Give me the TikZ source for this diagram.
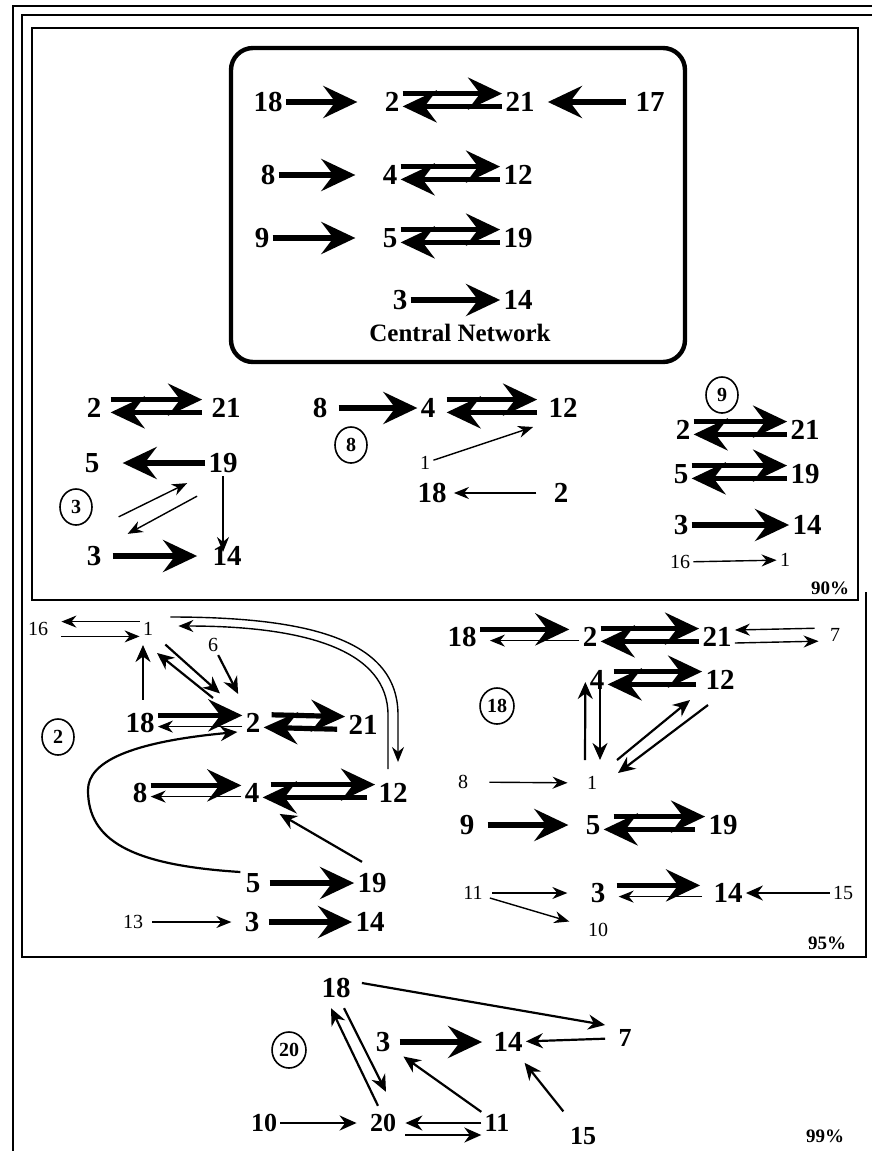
\documentclass[tikz,border=0pt]{standalone}
\usepackage{fontspec}
\setmainfont{Liberation Serif}
\usetikzlibrary{arrows.meta,calc,shapes.geometric}

\tikzset{
  big/.style={font=\fontsize{14.5}{16}\selectfont\bfseries, inner sep=1.5pt},
  mid/.style={font=\fontsize{13}{15}\selectfont\bfseries, inner sep=1.5pt},
  sml/.style={font=\fontsize{10}{12}\selectfont, inner sep=1.5pt},
  pct/.style={font=\fontsize{9.5}{11}\selectfont\bfseries, inner sep=1pt},
  tag/.style={draw, ellipse, line width=0.8pt, inner sep=1pt,
    minimum width=16pt, minimum height=18pt, font=\fontsize{10}{11}\selectfont\bfseries},
  thk/.style={line width=2.6pt, -{Stealth[length=17pt,width=16pt,inset=6pt]}},
  med/.style={line width=1.1pt, -{Stealth[length=8.5pt,width=7.5pt]}},
  thn/.style={line width=0.7pt, -{Stealth[length=7.5pt,width=6pt]}},
  frame/.style={line width=1pt}
}
% thick both ways
\newcommand{\rpair}[3][]{%
  \draw[thk,#1] ([yshift=4.2pt]#2.east) -- ([yshift=4.2pt]#3.west);%
  \draw[thk,#1] ([yshift=-2.2pt]#3.west) -- ([yshift=-2.2pt]#2.east);}
% thick forward, thin back
\newcommand{\rmix}[3][]{%
  \draw[thk,#1] ([yshift=3.8pt]#2.east) -- ([yshift=3.8pt]#3.west);%
  \draw[thn,#1] ([yshift=-1.8pt]#3.west) -- ([yshift=-1.8pt]#2.east);}

\begin{document}
\begin{tikzpicture}[x=0.5pt,y=-0.5pt]
  \useasboundingbox (0,0) rectangle (872,1151);

  % frames
  \draw[frame] (13,1151) -- (13,6) -- (872,6);
  \draw[frame] (866,592) -- (866,957) -- (22,957) -- (22,15) -- (872,15);
  \draw[frame] (32,28) rectangle (858,600);
  \draw[line width=2.2pt, rounded corners=11pt] (231,48) rectangle (685,362);

  % central network
  \node[big] (c18) at (268,102) {18};
  \node[big] (c2)  at (392,102) {2};
  \node[big] (c21) at (520,102) {21};
  \node[big] (c17) at (650,102) {17};
  \node[big] (c8)  at (268,175) {8};
  \node[big] (c4)  at (390,175) {4};
  \node[big] (c12) at (518,175) {12};
  \node[big] (c9)  at (262,238) {9};
  \node[big] (c5)  at (390,238) {5};
  \node[big] (c19) at (518,238) {19};
  \node[big] (c3)  at (400,300) {3};
  \node[big] (c14) at (518,300) {14};
  \node[font=\fontsize{12.5}{14}\selectfont\bfseries] (cnet) at (460,333) {Central Network};

  \draw[thk, shorten >=12pt] (c18) -- (c2);
  \draw[thk, shorten >=12pt] (c8) -- (c4);
  \draw[thk, shorten >=12pt] (c9) -- (c5);
  \draw[thk, shorten <=3pt, shorten >=5pt] (c17) -- (c21);
  \draw[thk] (c3) -- (c14);
  \rpair{c2}{c21}\rpair{c4}{c12}\rpair{c5}{c19}

  % panel 3
  \node[big] (a2)  at (94,408)  {2};
  \node[big] (a21) at (226,408) {21};
  \node[big] (a5)  at (92,463)  {5};
  \node[big] (a19) at (223,463) {19};
  \node[tag] (t3)  at (76,507)  {3};
  \node[big] (a3)  at (94,556)  {3};
  \node[big] (a14) at (227,556) {14};

  \rpair[shorten <=3pt, shorten >=3pt]{a2}{a21}
  \draw[thk, shorten >=10pt] (a19) -- (a5);
  \draw[thn] ($(a3.north east)+(14,-26)$) -- ($(a19.south west)+(-18,7)$);
  \draw[thn] ($(a19.south west)+(-8,20)$) -- ($(a3.north east)+(23,-9)$);
  \draw[thn] (a19.south) -- ($(a19.south |- a14.north)+(0,9)$);
  \draw[thk, shorten <=4pt, shorten >=6pt] (a3) -- (a14);

  % panel 8
  \node[big] (b8)  at (320,408) {8};
  \node[big] (b4)  at (428,408) {4};
  \node[big] (b12) at (563,408) {12};
  \node[tag] (t8)  at (351,445) {8};
  \node[sml] (b1)  at (425,463) {1};
  \node[big] (b18) at (432,493) {18};
  \node[big] (b2)  at (561,493) {2};

  \draw[thk, shorten <=4pt] (b8) -- (b4);
  \rpair[shorten <=4pt, shorten >=4pt]{b4}{b12}
  \draw[thn] (b1) -- ($(b12.south west)+(-12,6)$);
  \draw[thn, shorten <=7pt, shorten >=2pt] (b2) -- (b18);

  % panel 9
  \node[tag] (t9)  at (722,395) {9};
  \node[big] (d2)  at (683,430) {2};
  \node[big] (d21) at (805,430) {21};
  \node[big] (d5)  at (681,474) {5};
  \node[big] (d19) at (805,474) {19};
  \node[big] (d3)  at (681,525) {3};
  \node[big] (d14) at (807,525) {14};
  \node[sml] (d16) at (680,562) {16};
  \node[sml] (d1)  at (785,560) {1};
  \node[pct] (p90) at (830,588) {90\%};

  \rpair{d2}{d21}\rpair{d5}{d19}
  \draw[thk] (d3) -- (d14);
  \draw[thn] (d16) -- (d1);

  % panel 2
  \node[sml] (e16) at (38,629)  {16};
  \node[sml] (e1)  at (148,629) {1};
  \node[sml] (e6)  at (213,645) {6};
  \node[big] (e18) at (140,723) {18};
  \node[big] (e2)  at (253,723) {2};
  \node[big] (e21) at (363,725) {21};
  \node[tag] (t2)  at (58,737)  {2};
  \node[big] (e8)  at (140,793) {8};
  \node[big] (e4)  at (252,793) {4};
  \node[big] (e12) at (393,793) {12};
  \node[big] (e5)  at (253,883) {5};
  \node[big] (e19) at (372,883) {19};
  \node[sml] (e13) at (133,922) {13};
  \node[big] (e3)  at (252,922) {3};
  \node[big] (e14) at (370,922) {14};

  \draw[thn, shorten >=5pt] ([yshift=3.7pt]e1.west) -- ([yshift=3.7pt]e16.east);
  \draw[thn, shorten <=5pt] ([yshift=-3.7pt]e16.east) -- ([yshift=-3.7pt]e1.west);
  \draw[thn] ($(e1.east)+(14,-12)$) .. controls (310,617) and (398,640) .. (398,715)
    -- ($(e12.north)+(5,-18)$);
  \draw[thn] ($(e12.north)+(-5,-11)$) -- (388,715) .. controls (388,652) and (310,626)
    .. ($(e1.east)+(22,-3)$);
  \draw[med, shorten >=9pt] (e6) -- (e2);
  \draw[med, shorten <=6pt, shorten >=15pt] (e1) -- (e2);
  \draw[med] ($(e2)+(-40,-25)$) -- ($(e1)+(9,24)$);
  \draw[med] ($(e18.north)+(3,-10)$) -- ($(e1.south)+(-5,6)$);
  \rmix{e18}{e2}
  \rpair[shorten <=4pt]{e2}{e21}
  \draw[med] ($(e5.west)+(-2,-11)$) .. controls (130,865) and (88,840) .. (88,790)
    .. controls (88,762) and (130,742) .. ($(e2.south west)+(-5,-4)$);
  \rmix{e8}{e4}
  \rpair[shorten <=4pt]{e4}{e12}
  \draw[med] ($(e19.north)+(-10,-8)$) -- ($(e4.south east)+(17,8)$);
  \draw[thk, shorten <=3pt] (e5) -- (e19);
  \draw[thn, shorten <=3pt, shorten >=5pt] (e13) -- (e3);
  \draw[thk, shorten <=3pt] (e3) -- (e14);

  % panel 18
  \node[big] (f18) at (462,637) {18};
  \node[big] (f2)  at (590,637) {2};
  \node[big] (f21) at (717,637) {21};
  \node[sml] (f7)  at (835,635) {7};
  \node[big] (f4)  at (597,680) {4};
  \node[big] (f12) at (720,680) {12};
  \node[tag] (t18) at (497,706) {18};
  \node[sml] (f8)  at (463,782) {8};
  \node[sml] (f1)  at (592,783) {1};
  \node[big] (f9)  at (467,825) {9};
  \node[big] (f5)  at (593,825) {5};
  \node[big] (f19) at (723,825) {19};
  \node[sml] (f11) at (473,893) {11};
  \node[big] (f3)  at (598,893) {3};
  \node[big] (f14) at (728,893) {14};
  \node[sml] (f15) at (843,893) {15};
  \node[sml] (f10) at (598,930) {10};
  \node[pct] (p95) at (827,943) {95\%};

  \rmix[shorten >=5pt]{f18}{f2}
  \rpair{f2}{f21}
  \draw[thn, shorten <=6pt] ([yshift=3.5pt]f7.west) -- ([yshift=3.5pt]f21.east);
  \draw[thn, shorten >=4pt] ([yshift=-3pt]f21.east) -- ([yshift=-3pt]f7.west);
  \rpair[shorten <=3pt]{f4}{f12}
  \draw[med] ($(f1.north)+(-7,-13)$) -- ($(f4.west)+(-1,2)$);
  \draw[med] ($(f4.south)+(3,-5)$) -- ($(f1.north)+(8,-13)$);
  \draw[med] ($(f1)+(25,-23)$) -- ($(f12)+(-30,20)$);
  \draw[med] ($(f12)+(-12,25)$) -- ($(f1)+(26,-10)$);
  \draw[thn, shorten <=9pt, shorten >=8pt] (f8) -- (f1);
  \draw[thk, shorten <=5pt, shorten >=7pt] (f9) -- (f5);
  \rpair[shorten <=5pt]{f5}{f19}
  \draw[thn, shorten <=3pt, shorten >=10pt] (f11) -- (f3);
  \draw[thn, shorten <=2pt, shorten >=8pt] (f11) -- (f10);
  \rmix[shorten <=4pt, shorten >=5pt]{f3}{f14}
  \draw[med] (f15) -- (f14);

  % panel 20
  \node[big] (g18) at (336,988)  {18};
  \node[tag] (t20) at (289,1050) {20};
  \node[big] (g3)  at (383,1042) {3};
  \node[big] (g14) at (508,1042) {14};
  \node[mid] (g7)  at (625,1038) {7};
  \node[mid] (g10) at (264,1123) {10};
  \node[mid] (g20) at (383,1123) {20};
  \node[mid] (g11) at (497,1123) {11};
  \node[mid] (g15) at (583,1136) {15};
  \node[pct] (p99) at (825,1136) {99\%};

  \draw[med] ($(g18.east)+(8,-5)$) -- ($(g7.west)+(-10,-13)$);
  \draw[thk, shorten <=3pt, shorten >=4pt] (g3) -- (g14);
  \draw[med, shorten <=5pt] (g7) -- (g14);
  \draw[med] ($(g20.north)+(-5,-5)$) -- ($(g18.south)+(-5,7)$);
  \draw[med] ($(g18.south)+(8,7)$) -- ($(g20.north)+(3,-19)$);
  \draw[med, shorten >=5pt] (g10) -- (g20);
  \draw[med, shorten >=3pt] (g11) -- (g20);
  \draw[med, shorten <=3pt] ([yshift=-6pt]g20.east) -- ([yshift=-6pt]g11.west);
  \draw[med, shorten >=6pt] (g11) -- (g3);
  \draw[med, shorten <=8pt, shorten >=5pt] (g15) -- (g14);
\end{tikzpicture}
\end{document}
